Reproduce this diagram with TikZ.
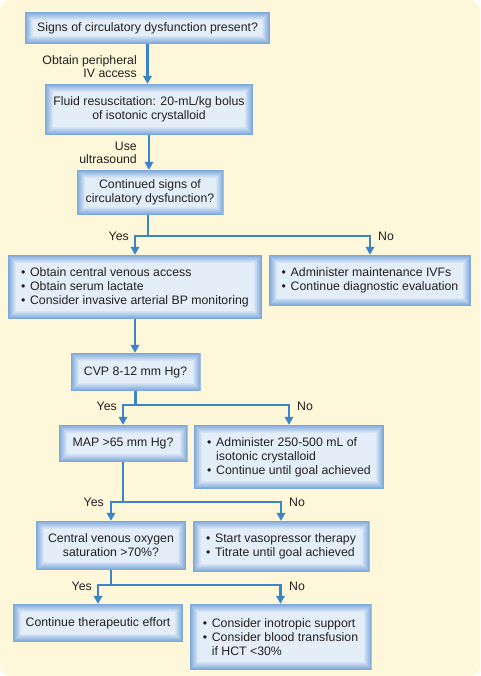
\documentclass[tikz,border=0pt]{standalone}
\usepackage{fontspec}
\setmainfont{Liberation Sans}
\usetikzlibrary{arrows.meta}
\definecolor{bgc}{HTML}{FEF7D9}
\definecolor{boxedge}{HTML}{7DA8DA}
\definecolor{boxfill}{HTML}{E4EEF9}
\definecolor{arrc}{HTML}{3A85C5}
\definecolor{txtc}{HTML}{231F20}
\newcommand\bul{\makebox[9pt][l]{•}}
\newcommand\ind{\makebox[9pt][l]{}}
\begin{document}
\begin{tikzpicture}[x=1pt,y=-1pt,
  bx/.style={inner sep=0pt, align=center, text=txtc, fill=boxfill,
    font=\fontsize{12.3}{14}\selectfont,
    path picture={
      \foreach \i/\p in {0/0,1/12,2/25,3/37,4/50,5/62,6/74,7/86,8/100}{
        \fill[boxfill!\p!boxedge]
          ([xshift=\i pt,yshift=-\i pt]path picture bounding box.north west)
          rectangle
          ([xshift=-\i pt,yshift=\i pt]path picture bounding box.south east);
      }
    }},
  bl/.style={bx, align=left},
  ln/.style={draw=arrc, line width=2.2pt},
  arr/.style={ln, -{Triangle[width=8.5pt,length=8pt]}},
  lab/.style={inner sep=0pt, text=txtc, font=\fontsize{12.3}{13}\selectfont}
]
\fill[bgc, rounded corners=10pt] (0,0) rectangle (480,676);
\useasboundingbox (0,0) rectangle (480,676);

\node[bx, minimum width=245pt, minimum height=32pt] (n1) at (147.5,28) {Signs of circulatory dysfunction present?};
\node[bx, minimum width=208pt, minimum height=51pt] (n2) at (149,109.5) {Fluid resuscitation: 20-mL/kg bolus\\of isotonic crystalloid};
\node[bx, minimum width=147pt, minimum height=45pt] (n3) at (150,192.5) {Continued signs of\\circulatory dysfunction?};
\node[bl, minimum width=254pt, minimum height=64pt] (n4) at (135,287) {\bul Obtain central venous access\\\bul Obtain serum lactate\\\bul Consider invasive arterial BP monitoring};
\node[bl, minimum width=202pt, minimum height=51pt] (n5) at (370,280.5) {\bul Administer maintenance IVFs\\\bul Continue diagnostic evaluation};
\node[bx, minimum width=130pt, minimum height=38pt] (n6) at (135.5,372) {CVP 8-12 mm Hg?};
\node[bx, minimum width=129pt, minimum height=37pt] (n7) at (123,443.5) {MAP >65 mm Hg?};
\node[bl, minimum width=190pt, minimum height=64pt] (n8) at (289,457) {\bul Administer 250-500 mL of\\\ind isotonic crystalloid\\\bul Continue until goal achieved};
\node[bx, minimum width=150pt, minimum height=49pt] (n9) at (111,545.5) {Central venous oxygen\\saturation >70\%?};
\node[bl, minimum width=177pt, minimum height=51pt] (n10) at (281,546.5) {\bul Start vasopressor therapy\\\bul Titrate until goal achieved};
\node[bx, minimum width=170pt, minimum height=38pt] (n11) at (98,623) {Continue therapeutic effort};
\node[bl, minimum width=182pt, minimum height=66pt] (n12) at (280.5,637) {\bul Consider inotropic support\\\bul Consider blood transfusion\\\ind if HCT <30\%};

% straight arrows
\draw[arr] (n1) -- (n1 |- n2.north);
\node[lab, anchor=east, align=right] (l1) at (137,67) {Obtain peripheral\\IV access};
\draw[arr] (n2) -- (n2 |- n3.north);
\node[lab, anchor=east, align=right] (l2) at (137,153) {Use\\ultrasound};
\draw[arr] (n4) -- (n4 |- n6.north);

% branches
\coordinate (j1) at (148,236);
\draw[ln] (n3.south -| j1) -- (j1);
\draw[arr] (j1) -| (n4.north);
\draw[arr] (j1) -| (n5.north);
\node[lab, anchor=east] (y1) at (129,236) {Yes};
\node[lab, anchor=west] (o1) at (378,236) {No};

\coordinate (j2) at (135.5,405);
\draw[ln] (n6.south -| j2) -- (j2);
\draw[arr] (j2) -| (n7.north);
\draw[arr] (j2) -| (n8.north);
\node[lab, anchor=east] (y2) at (117,406) {Yes};
\node[lab, anchor=west] (o2) at (297,406) {No};

\coordinate (j3) at (123,502);
\draw[ln] (n7.south -| j3) -- (j3);
\draw[arr] (j3) -| (n9.north);
\draw[arr] (j3) -| (n10.north);
\node[lab, anchor=east] (y3) at (104,502) {Yes};
\node[lab, anchor=west] (o3) at (289,502) {No};

\coordinate (j4) at (111,585);
\draw[ln] (n9.south -| j4) -- (j4);
\draw[arr] (j4) -| (n11.north);
\draw[arr] (j4) -| (n12.north);
\node[lab, anchor=east] (y4) at (92,586) {Yes};
\node[lab, anchor=west] (o4) at (289,586) {No};
\end{tikzpicture}
\end{document}
